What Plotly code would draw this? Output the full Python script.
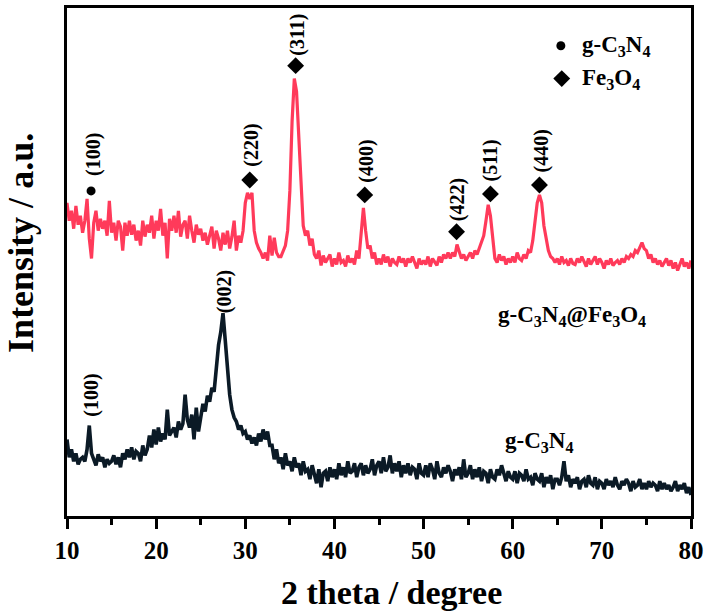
import plotly.graph_objects as go

# 2-theta grid (0.25 degree steps from 10 to 80)
two_theta = [10 + 0.25 * i for i in range(281)]

# g-C3N4@Fe3O4 pattern (a.u.)
fe_comp = [
    318, 300, 310, 292, 315, 296, 305, 288, 300, 322, 282, 262,
    298, 310, 290, 302, 292, 300, 285, 320, 288, 298, 280, 300,
    294, 270, 298, 285, 300, 286, 296, 280, 290, 275, 300, 284,
    296, 288, 305, 282, 300, 290, 312, 285, 298, 262, 302, 290,
    305, 288, 310, 284, 296, 300, 282, 305, 290, 278, 296, 286,
    292, 280, 288, 276, 285, 294, 272, 290, 282, 270, 288, 276,
    290, 272, 284, 300, 270, 285, 278, 290, 318, 328, 322, 328,
    290, 278, 272, 268, 262, 268, 260, 285, 265, 283, 268, 264,
    264, 270, 275, 290, 330, 400, 443, 430, 386, 330, 295, 285,
    290, 275, 282, 266, 262, 270, 255, 265, 258, 262, 266, 254,
    262, 256, 268, 258, 260, 254, 265, 258, 262, 256, 270, 262,
    285, 313, 290, 272, 275, 262, 268, 256, 262, 256, 266, 258,
    264, 254, 262, 258, 256, 264, 258, 262, 254, 262, 258, 264,
    258, 252, 262, 256, 260, 256, 264, 254, 262, 258, 255, 264,
    258, 266, 262, 268, 262, 268, 264, 276, 270, 262, 266, 260,
    264, 268, 262, 270, 266, 272, 278, 285, 300, 316, 305, 280,
    262, 258, 266, 260, 264, 256, 262, 258, 264, 258, 268, 262,
    260, 266, 262, 270, 268, 280, 300, 318, 326, 318, 295, 280,
    270, 264, 262, 258, 262, 256, 264, 258, 260, 255, 262, 257,
    256, 262, 258, 264, 258, 254, 262, 256, 260, 264, 256, 262,
    258, 252, 260, 256, 262, 255, 258, 260, 256, 262, 258, 264,
    262, 266, 264, 270, 268, 274, 278, 272, 270, 262, 266, 258,
    262, 256, 260, 254, 258, 262, 255, 260, 252, 258, 250, 256,
    262, 254, 258, 252, 260,
]

# g-C3N4 pattern (a.u.)
gcn = [
    80, 62, 70, 58, 66, 55, 60, 62, 58, 70, 94, 66,
    60, 54, 65, 58, 62, 52, 60, 56, 58, 64, 55, 62,
    52, 66, 60, 70, 62, 72, 60, 68, 66, 58, 74, 64,
    70, 84, 72, 90, 75, 92, 78, 86, 80, 110, 84, 88,
    92, 82, 98, 90, 96, 125, 100, 92, 105, 80, 112, 88,
    102, 116, 108, 124, 118, 132, 128, 150, 175, 188, 207, 180,
    150, 125, 110, 102, 98, 90, 94, 86, 88, 80, 84, 76,
    82, 74, 86, 78, 90, 80, 88, 74, 74, 60, 70, 56,
    62, 50, 66, 54, 58, 48, 62, 52, 56, 44, 58, 48,
    50, 40, 54, 44, 36, 50, 32, 46, 48, 38, 52, 42,
    50, 40, 56, 44, 52, 42, 58, 46, 48, 56, 42, 52,
    56, 44, 54, 46, 50, 60, 44, 54, 58, 46, 62, 48,
    52, 64, 46, 56, 48, 58, 42, 54, 46, 56, 44, 52,
    50, 40, 56, 46, 44, 54, 42, 56, 50, 40, 58, 46,
    42, 52, 46, 54, 48, 38, 50, 44, 52, 40, 60, 42,
    46, 54, 40, 50, 42, 52, 38, 48, 46, 36, 50, 42,
    40, 50, 44, 54, 46, 38, 48, 42, 40, 48, 36, 46,
    44, 38, 50, 40, 42, 34, 46, 40, 38, 46, 32, 42,
    36, 44, 30, 40, 40, 34, 42, 58, 38, 44, 32, 40,
    36, 42, 30, 38, 40, 32, 44, 36, 34, 42, 30, 38,
    36, 30, 40, 34, 38, 32, 42, 34, 30, 38, 34, 40,
    36, 28, 38, 32, 34, 40, 30, 36, 30, 38, 32, 36,
    34, 28, 38, 30, 36, 30, 34, 28, 32, 38, 28, 34,
    30, 36, 26, 32, 24,
]

# Peak labels (hkl)
fe_hkl = ["(100)", "(220)", "(311)", "(400)", "(422)", "(511)", "(440)"]
gcn_hkl = ["(100)", "(002)"]

RED = "#FF3A5A"
DARK = "#0B1A26"
FONT = "Liberation Serif"

fig = go.Figure()
fig.add_trace(go.Scatter(x=two_theta, y=fe_comp, mode="lines",
                         line=dict(color=RED, width=3.2), hoverinfo="skip"))
fig.add_trace(go.Scatter(x=two_theta, y=gcn, mode="lines",
                         line=dict(color=DARK, width=3.6), hoverinfo="skip"))

# marker symbols above peaks and legend symbols
dot_pos = [(12.7, 330), (65.4, 476)]
dia_pos = [(30.5, 341), (35.65, 456), (43.4, 326), (53.7, 289),
           (57.5, 327), (63.0, 336), (65.5, 443)]
fig.add_trace(go.Scatter(x=[p[0] for p in dot_pos], y=[p[1] for p in dot_pos],
                         mode="markers", marker=dict(symbol="circle", size=9, color="black"),
                         hoverinfo="skip"))
fig.add_trace(go.Scatter(x=[p[0] for p in dia_pos], y=[p[1] for p in dia_pos],
                         mode="markers", marker=dict(symbol="diamond", size=13, color="black"),
                         hoverinfo="skip"))

lab_font = dict(family=FONT, size=20, color="black", weight="bold")
fe_lab_pos = [(12.9, 367), (30.7, 376), (35.9, 487), (43.5, 360),
              (53.9, 321), (57.5, 361), (63.2, 370)]
for t, (x, y) in zip(fe_hkl, fe_lab_pos):
    fig.add_annotation(x=x, y=y, text=t, textangle=-90, showarrow=False, font=lab_font)
gcn_lab_pos = [(12.8, 125), (27.6, 229)]
for t, (x, y) in zip(gcn_hkl, gcn_lab_pos):
    fig.add_annotation(x=x, y=y, text=t, textangle=-90, showarrow=False, font=lab_font)

txt_font = dict(family=FONT, size=23, color="black", weight="bold")
fig.add_annotation(x=67.6, y=476, text="g-C<sub>3</sub>N<sub>4</sub>", xanchor="left",
                   showarrow=False, font=txt_font)
fig.add_annotation(x=67.6, y=443, text="Fe<sub>3</sub>O<sub>4</sub>", xanchor="left",
                   showarrow=False, font=txt_font)
fig.add_annotation(x=66.7, y=204, text="g-C<sub>3</sub>N<sub>4</sub>@Fe<sub>3</sub>O<sub>4</sub>",
                   showarrow=False, font=txt_font)
fig.add_annotation(x=63.0, y=77, text="g-C<sub>3</sub>N<sub>4</sub>",
                   showarrow=False, font=txt_font)

# axis titles
fig.add_annotation(xref="paper", yref="paper", x=0.52, y=-0.151, xanchor="center",
                   yanchor="middle", text="2 theta / degree", showarrow=False,
                   font=dict(family=FONT, size=34, color="black", weight="bold"))
fig.add_annotation(xref="paper", yref="paper", x=-0.075, y=0.538, xanchor="center",
                   yanchor="middle", text="Intensity / a.u.", textangle=-90, showarrow=False,
                   font=dict(family=FONT, size=36, color="black", weight="bold"))

fig.update_layout(
    width=709, height=616,
    margin=dict(l=67, r=17, t=5, b=100),
    paper_bgcolor="white", plot_bgcolor="white",
    showlegend=False,
    xaxis=dict(range=[10, 80], tickvals=[10, 20, 30, 40, 50, 60, 70, 80],
               ticks="outside", ticklen=10, tickwidth=3, tickcolor="black",
               ticklabelstandoff=0,
               minor=dict(ticks="outside", ticklen=6, tickwidth=3, tickcolor="black",
                          tickvals=[15, 25, 35, 45, 55, 65, 75]),
               showline=True, linewidth=3, linecolor="black", mirror=True,
               showgrid=False, zeroline=False,
               tickfont=dict(family=FONT, size=25, color="black", weight="bold")),
    yaxis=dict(range=[3, 514], showticklabels=False, ticks="",
               showline=True, linewidth=3, linecolor="black", mirror=True,
               showgrid=False, zeroline=False),
)

fig.write_html("out.html", config={"displayModeBar": False},
               post_script="document.body.style.margin='0';")
